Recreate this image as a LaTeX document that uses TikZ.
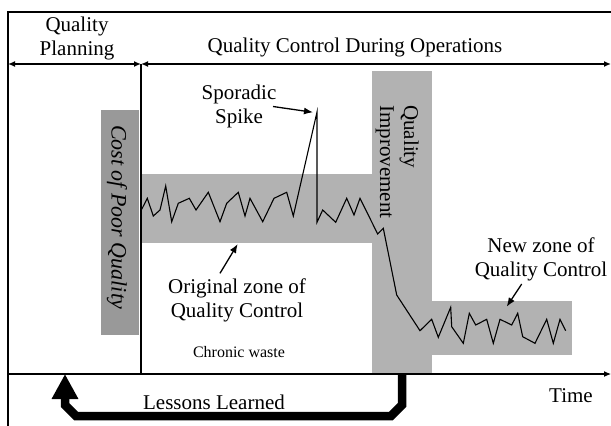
\documentclass[tikz,border=0pt]{standalone}
\usepackage{fontspec}
\setmainfont{Liberation Serif}
\usetikzlibrary{arrows.meta}
\begin{document}
\begin{tikzpicture}[x=1pt,y=-1pt,
  lbl/.style={font=\fontsize{21}{24}\selectfont, inner sep=0pt, align=center},
  small/.style={font=\fontsize{16}{19}\selectfont, inner sep=0pt},
  zone/.style={fill=gray!60, draw=none},
  darkbox/.style={fill=gray!80, draw=none},
  frameline/.style={line width=2pt},
  thinline/.style={line width=1.1pt},
  hdrarrow/.style={line width=1.3pt, {Latex[length=7pt,width=6pt]}-{Latex[length=7pt,width=6pt]}},
  notearrow/.style={line width=1.3pt, -{Latex[length=9pt,width=7pt]}},
  noise/.style={line width=1.1pt, line join=miter},
  lessons/.style={line width=8.5pt, line join=miter, -{Triangle[length=25pt,width=25pt]}}
]
\fill[white] (0,0) rectangle (611,426);
\useasboundingbox (0,0) rectangle (611,426);

% grey zones
\fill[zone] (141,174) rectangle (372,243);
\fill[zone] (372,71) rectangle (432,374);
\fill[zone] (432,301) rectangle (572,355);
\fill[darkbox] (101,110) rectangle (139,335);

% frame
\coordinate (tl) at (8,12);
\coordinate (tr) at (611,12);
\coordinate (bl) at (8,426);
\draw[frameline] (tr) -- (tl) -- (bl);

% header arrows
\coordinate (hl) at (8,64);
\coordinate (hm) at (141,64);
\coordinate (hr) at (611,64);
\draw[hdrarrow] (hl) -- (hm);
\draw[hdrarrow] (hm) -- (hr);

% time axis and divider
\coordinate (al) at (8,374);
\coordinate (ar) at (611,374);
\coordinate (vb) at (141,374);
\draw[thinline, -{Latex[length=7pt,width=6pt]}] (al) -- (ar);
\draw[thinline] (hm) -- (vb);

% process line
\draw[noise] (141.7,209.3) -- (147.3,198.3) -- (153.3,216) -- (160,210) -- (165.7,186) -- (171.7,221.7) -- (178.3,203.3) -- (189.3,198.3) -- (196,210) -- (208.3,192.3) -- (220,221.7) -- (226.7,203.3) -- (238.3,192.3) -- (245,216) -- (250,198.3) -- (262.7,221.7) -- (274,198.3) -- (286.7,192.3) -- (293.3,216) -- (317,112) -- (317,222.3) -- (322.7,210) -- (335.7,222.3) -- (346.7,198.3) -- (354,215) -- (360,198.3) -- (377.7,234) -- (383.3,228.3) -- (396.7,295) -- (420,330.7) -- (431.7,319.3) -- (438.3,337.3) -- (450.7,307.3) -- (451.7,326.7) -- (463.3,343.3) -- (469.3,313.3) -- (475.7,325) -- (486.7,319.3) -- (493.3,343.3) -- (500,319.3) -- (511.7,325) -- (517.7,313.3) -- (522.7,336.7) -- (535,343.3) -- (546.7,319.3) -- (553.3,343.3) -- (560,319.3) -- (565.7,330.7);

% texts
\node[lbl] (qp) at (77,38) {Quality\\Planning};
\node[lbl, anchor=base] (qcdo) at (355,52) {Quality Control During Operations};
\node[lbl] (spike) at (239,106) {Sporadic\\Spike};
\node[lbl] (orig) at (237,300) {Original zone of\\Quality Control};
\node[small, anchor=base] (chronic) at (239,357) {Chronic waste};
\node[lbl] (newz) at (541,259) {New zone of\\Quality Control};
\node[lbl, anchor=base] (lessonstxt) at (214,409) {Lessons Learned};
\node[lbl, anchor=base] (time) at (571,402) {Time};
\node[lbl, align=left, rotate=-90, anchor=north west] (qi) at (419,105) {Quality\\Improvement};
\node[lbl, font=\fontsize{22}{24}\selectfont\itshape, rotate=-90] (copq) at (117,217) {Cost of Poor Quality};

% annotation arrows
\coordinate (s1) at (273,106.5);
\coordinate (s2) at (313,112.3);
\draw[notearrow] (s1) -- (s2);
\coordinate (o1) at (220,273.3);
\coordinate (o2) at (237.7,244);
\draw[notearrow] (o1) -- (o2);
\coordinate (n1) at (521.7,284);
\coordinate (n2) at (506.7,306.7);
\draw[notearrow] (n1) -- (n2);

% lessons learned arrow
\coordinate (l1) at (402,374);
\coordinate (l2) at (402,405);
\coordinate (l3) at (391,416);
\coordinate (l4) at (76,416);
\coordinate (l5) at (65,405);
\coordinate (l6) at (65,374);
\draw[lessons] (l1) -- (l2) -- (l3) -- (l4) -- (l5) -- (l6);
\end{tikzpicture}
\end{document}
